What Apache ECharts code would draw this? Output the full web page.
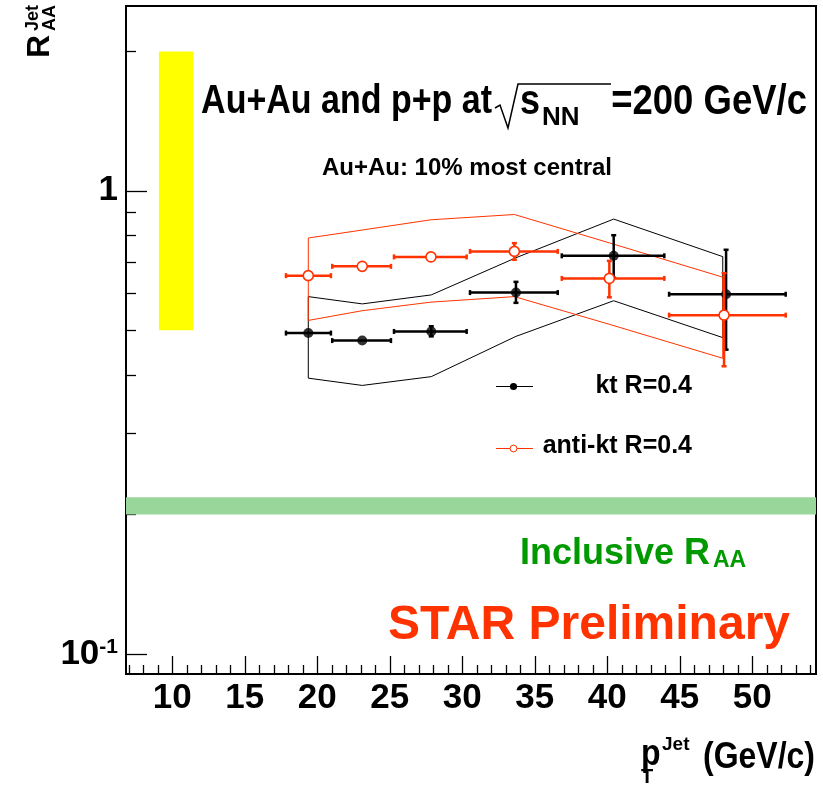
<!DOCTYPE html>
<html>
<head>
<meta charset="utf-8">
<script src="https://cdn.jsdelivr.net/npm/echarts@6/dist/echarts.min.js"></script>
<style>
  html, body { margin: 0; background: #fff; }
  #chart { width: 823px; height: 785px; }
</style>
</head>
<body>
<div id="chart"></div>
<script>
// axis ranges and ticks
const xMin = 6.81, xMax = 54.39;
const yMin = 0.0905, yMax = 2.507;
const xMajorTicks = [10, 15, 20, 25, 30, 35, 40, 45, 50];
const xMinorTicks = [7, 8, 9, 11, 12, 13, 14, 16, 17, 18, 19, 21, 22, 23, 24, 26, 27, 28, 29,
  31, 32, 33, 34, 36, 37, 38, 39, 41, 42, 43, 44, 46, 47, 48, 49, 51, 52, 53, 54];
const yMajorTicks = [0.1, 1];
const yMinorTicks = [0.2, 0.3, 0.4, 0.5, 0.6, 0.7, 0.8, 0.9, 2];

// kt R=0.4
const ktX = [19.38, 23.10, 27.86, 33.70, 40.44, 48.19];
const ktY = [0.493, 0.475, 0.497, 0.603, 0.724, 0.598];
const ktXLo = [17.84, 21.03, 25.29, 30.53, 36.86, 44.26];
const ktXHi = [20.94, 25.08, 30.30, 36.58, 43.93, 52.30];
const ktYLo = [0.493, 0.475, 0.485, 0.573, 0.649, 0.454];
const ktYHi = [0.493, 0.475, 0.510, 0.636, 0.802, 0.746];
const ktSysX = [19.38, 23.10, 27.86, 33.70, 40.44, 47.96];
const ktSysHi = [0.591, 0.570, 0.596, 0.717, 0.869, 0.721];
const ktSysLo = [0.394, 0.380, 0.397, 0.485, 0.579, 0.482];

// anti-kt R=0.4
const akX = [19.38, 23.10, 27.84, 33.59, 40.14, 48.05];
const akY = [0.656, 0.687, 0.720, 0.740, 0.647, 0.539];
const akXLo = [17.84, 21.03, 25.29, 30.53, 36.86, 44.26];
const akXHi = [20.94, 25.08, 30.30, 36.58, 43.93, 52.30];
const akYLo = [0.656, 0.687, 0.720, 0.710, 0.589, 0.418];
const akYHi = [0.656, 0.687, 0.720, 0.771, 0.706, 0.664];
const akSysX = [19.38, 23.10, 27.84, 33.59, 40.14, 47.96];
const akSysHi = [0.791, 0.823, 0.866, 0.889, 0.772, 0.651];
const akSysLo = [0.525, 0.551, 0.575, 0.591, 0.515, 0.435];

// normalisation box and inclusive R_AA band
const normBoxX = [9.08, 11.45];
const normBoxY = [0.5, 2.0];
const inclBandY = [0.2, 0.218];

const RED = '#ff3300';
const FONT = '"Liberation Sans", Arial, sans-serif';

const band = (x, hi, lo) => {
  const pts = x.map((v, i) => [v, hi[i]]);
  for (let i = x.length - 1; i >= 0; i--) pts.push([x[i], lo[i]]);
  pts.push(pts[0]);
  return pts;
};

const rows = (x, y, xlo, xhi, ylo, yhi) => x.map((v, i) => [v, y[i], xlo[i], xhi[i], ylo[i], yhi[i]]);

const errorBars = (color) => (params, api) => {
  const c = api.coord([api.value(0), api.value(1)]);
  const l = api.coord([api.value(2), api.value(1)]);
  const r = api.coord([api.value(3), api.value(1)]);
  const lo = api.coord([api.value(0), api.value(4)]);
  const hi = api.coord([api.value(0), api.value(5)]);
  const st = { stroke: color, lineWidth: 2.5 };
  const cap = 2.5;
  const kids = [
    { type: 'line', shape: { x1: l[0], y1: c[1], x2: r[0], y2: c[1] }, style: st },
    { type: 'line', shape: { x1: l[0], y1: c[1] - cap, x2: l[0], y2: c[1] + cap }, style: st },
    { type: 'line', shape: { x1: r[0], y1: c[1] - cap, x2: r[0], y2: c[1] + cap }, style: st },
  ];
  if (lo[1] - hi[1] > 1) {
    kids.push(
      { type: 'line', shape: { x1: c[0], y1: lo[1], x2: c[0], y2: hi[1] }, style: st },
      { type: 'line', shape: { x1: c[0] - cap, y1: lo[1], x2: c[0] + cap, y2: lo[1] }, style: st },
      { type: 'line', shape: { x1: c[0] - cap, y1: hi[1], x2: c[0] + cap, y2: hi[1] }, style: st }
    );
  }
  return { type: 'group', children: kids };
};

const boxRender = (color) => (params, api) => {
  const a = api.coord([api.value(0), api.value(3)]);
  const b = api.coord([api.value(1), api.value(2)]);
  return { type: 'rect', shape: { x: a[0], y: a[1], width: b[0] - a[0], height: b[1] - a[1] }, style: { fill: color } };
};

const tickStyle = { color: '#000', width: 1.3 };

const text = (x, y, str, font, fill, align, valign, extra) => Object.assign({
  type: 'text', x, y, z: 100,
  style: { text: str, font, fill, textAlign: align, align, textVerticalAlign: valign, verticalAlign: valign }
}, extra || {});

const tall = { scaleY: 1.18 };

const chart = echarts.init(document.getElementById('chart'), null, { renderer: 'canvas' });
chart.setOption({
  animation: false,
  backgroundColor: '#fff',
  grid: {
    left: 126, right: 7, top: 6, bottom: 111,
    show: true, borderColor: '#000', borderWidth: 2,
    outerBoundsMode: 'none', containLabel: false,
  },
  xAxis: [
    {
      type: 'value', min: xMin, max: xMax, position: 'bottom',
      axisLine: { show: false }, splitLine: { show: false },
      axisTick: { show: true, inside: true, length: 18, customValues: xMajorTicks, lineStyle: tickStyle },
      axisLabel: {
        show: true, customValues: xMajorTicks, margin: 7, color: '#000',
        fontSize: 35, fontWeight: 'bold', fontFamily: FONT,
      },
    },
    {
      type: 'value', min: xMin, max: xMax, position: 'bottom',
      axisLine: { show: false }, splitLine: { show: false },
      axisTick: { show: true, inside: true, length: 9, customValues: xMinorTicks, lineStyle: tickStyle },
      axisLabel: { show: false },
    },
  ],
  yAxis: [
    {
      type: 'log', logBase: 10, min: yMin, max: yMax, position: 'left',
      axisLine: { show: false }, splitLine: { show: false },
      axisTick: { show: true, inside: true, length: 21, customValues: yMajorTicks, lineStyle: tickStyle },
      axisLabel: {
        show: true, customValues: yMajorTicks, margin: 8, color: '#000',
        fontSize: 35, fontWeight: 'bold', fontFamily: FONT,
        formatter: (v) => {
          const e = Math.round(Math.log10(v));
          return e === 0 ? '{b|1}' : '{b|10}{s|' + e + '}';
        },
        rich: {
          b: { fontSize: 35, fontWeight: 'bold', fontFamily: FONT, color: '#000', lineHeight: 35 },
          s: { fontSize: 21, fontWeight: 'bold', fontFamily: FONT, color: '#000', lineHeight: 21, verticalAlign: 'top' },
        },
      },
    },
    {
      type: 'log', logBase: 10, min: yMin, max: yMax, position: 'left',
      axisLine: { show: false }, splitLine: { show: false },
      axisTick: { show: true, inside: true, length: 10, customValues: yMinorTicks, lineStyle: tickStyle },
      axisLabel: { show: false },
    },
  ],
  series: [
    {
      type: 'custom', name: 'norm', z: 1, silent: true,
      renderItem: boxRender('#ffff00'),
      encode: { x: [0, 1], y: [2, 3] },
      data: [[normBoxX[0], normBoxX[1], normBoxY[0], normBoxY[1]]],
    },
    {
      type: 'custom', name: 'inclusive', z: 1, silent: true,
      renderItem: boxRender('#99d699'),
      encode: { x: [0, 1], y: [2, 3] },
      data: [[xMin, xMax, inclBandY[0], inclBandY[1]]],
    },
    {
      type: 'line', name: 'kt sys', z: 2, silent: true, showSymbol: false, symbol: 'none',
      lineStyle: { color: '#000', width: 1 },
      data: band(ktSysX, ktSysHi, ktSysLo),
    },
    {
      type: 'line', name: 'anti-kt sys', z: 2, silent: true, showSymbol: false, symbol: 'none',
      lineStyle: { color: RED, width: 1 },
      data: band(akSysX, akSysHi, akSysLo),
    },
    {
      type: 'custom', name: 'kt err', z: 3, silent: true,
      renderItem: errorBars('#000'),
      encode: { x: [0, 2, 3], y: [1, 4, 5] },
      data: rows(ktX, ktY, ktXLo, ktXHi, ktYLo, ktYHi),
    },
    {
      type: 'scatter', name: 'kt R=0.4', z: 4, silent: true,
      symbol: 'circle', symbolSize: 10,
      itemStyle: { color: '#000' },
      data: ktX.map((v, i) => [v, ktY[i]]),
    },
    {
      type: 'custom', name: 'anti-kt err', z: 5, silent: true,
      renderItem: errorBars(RED),
      encode: { x: [0, 2, 3], y: [1, 4, 5] },
      data: rows(akX, akY, akXLo, akXHi, akYLo, akYHi),
    },
    {
      type: 'scatter', name: 'anti-kt R=0.4', z: 6, silent: true,
      symbol: 'circle', symbolSize: 10,
      itemStyle: { color: '#fff', borderColor: RED, borderWidth: 1.6, opacity: 1 },
      data: akX.map((v, i) => [v, akY[i]]),
    },
  ],
  graphic: [
    // title
    text(492, 102, 'Au+Au and p+p at', 'bold 34px ' + FONT, '#000', 'right', 'middle', tall),
    { type: 'polyline', z: 100, shape: { points: [[495, 108], [500, 105], [508, 128], [518, 84], [611, 84]] },
      style: { stroke: '#000', lineWidth: 1.5, fill: null } },
    text(520, 102, 's', 'bold 36px ' + FONT, '#000', 'left', 'middle', tall),
    text(542, 131, 'NN', 'bold 26px ' + FONT, '#000', 'left', 'bottom'),
    text(807, 102, '=200 GeV/c', 'bold 36.5px ' + FONT, '#000', 'right', 'middle', tall),
    text(467, 168, 'Au+Au: 10% most central', 'bold 24px ' + FONT, '#000', 'center', 'middle'),
    // legend
    { type: 'line', z: 100, shape: { x1: 496, y1: 386.5, x2: 533, y2: 386.5 }, style: { stroke: '#000', lineWidth: 1 } },
    { type: 'circle', z: 101, shape: { cx: 513.5, cy: 386.5, r: 3.6 }, style: { fill: '#000' } },
    text(692, 386.5, 'kt R=0.4', 'bold 25px ' + FONT, '#000', 'right', 'middle'),
    { type: 'line', z: 100, shape: { x1: 496, y1: 448.5, x2: 533, y2: 448.5 }, style: { stroke: RED, lineWidth: 1 } },
    { type: 'circle', z: 101, shape: { cx: 513.5, cy: 448.5, r: 3.4 }, style: { fill: '#fff', stroke: RED, lineWidth: 1 } },
    text(692, 446, 'anti-kt R=0.4', 'bold 25px ' + FONT, '#000', 'right', 'middle'),
    // annotations
    text(520, 554, 'Inclusive R', 'bold 36px ' + FONT, '#009900', 'left', 'middle'),
    text(713, 572, 'AA', 'bold 23px ' + FONT, '#009900', 'left', 'bottom'),
    text(790, 626, 'STAR Preliminary', 'bold 48px ' + FONT, RED, 'right', 'middle'),
    // y axis title
    text(56, 58, 'R', 'bold 32px ' + FONT, '#000', 'left', 'bottom', { rotation: Math.PI / 2 }),
    text(42, 31, 'Jet', 'bold 18px ' + FONT, '#000', 'left', 'bottom', { rotation: Math.PI / 2 }),
    text(59, 31, 'AA', 'bold 18px ' + FONT, '#000', 'left', 'bottom', { rotation: Math.PI / 2 }),
    // x axis title
    text(641, 755, 'p', 'bold 32px ' + FONT, '#000', 'left', 'middle', tall),
    text(662, 745, 'Jet', 'bold 19px ' + FONT, '#000', 'left', 'middle'),
    text(641, 777, 'T', 'bold 20px ' + FONT, '#000', 'left', 'middle'),
    text(815, 758, '(GeV/c)', 'bold 32px ' + FONT, '#000', 'right', 'middle', tall),
  ],
});
</script>
</body>
</html>
